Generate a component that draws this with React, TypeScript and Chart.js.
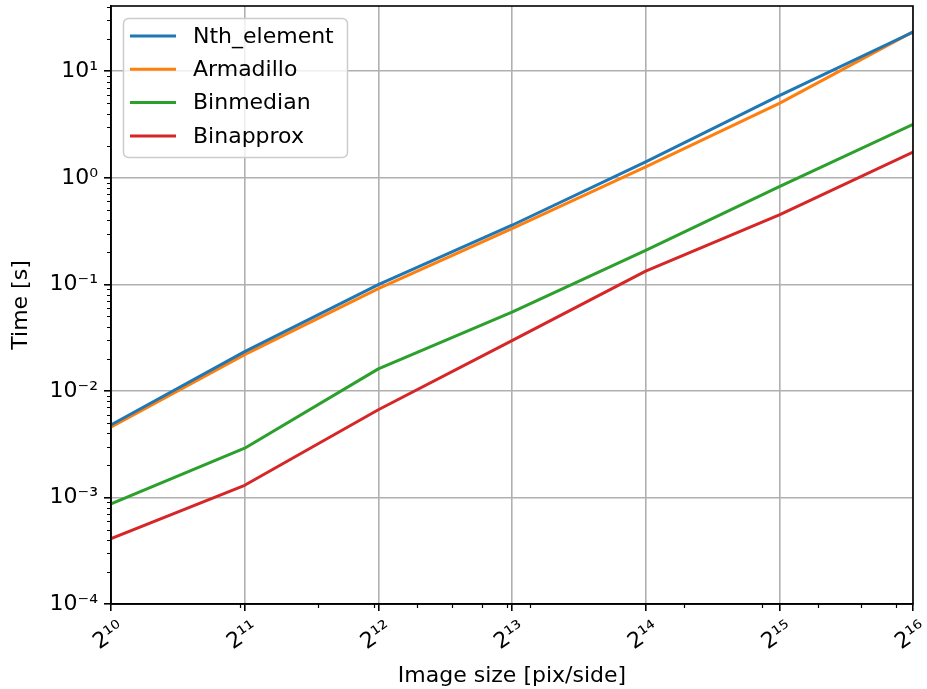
import React, { useEffect, useRef } from "react";
import { Chart, registerables } from "chart.js";

Chart.register(...registerables);

// ---- data ----
const IMAGE_SIZES = [1024, 2048, 4096, 8192, 16384, 32768, 65536];

const NTH_ELEMENT = [0.0048, 0.0234, 0.0995, 0.359, 1.41, 5.9, 23.3];
const ARMADILLO = [0.00457, 0.0219, 0.0914, 0.333, 1.27, 5.0, 23.5];
const BINMEDIAN = [0.00087, 0.0029, 0.0161, 0.0548, 0.208, 0.826, 3.18];
const BINAPPROX = [0.00041, 0.0013, 0.00665, 0.0297, 0.133, 0.449, 1.74];

const SERIES_LABELS = ["Nth_element", "Armadillo", "Binmedian", "Binapprox"];
const SERIES_VALUES = [NTH_ELEMENT, ARMADILLO, BINMEDIAN, BINAPPROX];
const SERIES_COLORS = ["#1f77b4", "#ff7f0e", "#2ca02c", "#d62728"];

const X_TICKS = [1024, 2048, 4096, 8192, 16384, 32768, 65536];
const X_TICK_LABELS = ["2¹⁰", "2¹¹", "2¹²", "2¹³", "2¹⁴", "2¹⁵", "2¹⁶"];
const X_MINOR_TICKS = [2000, 3000, 4000, 5000, 6000, 7000, 8000, 9000, 20000, 30000, 40000, 50000, 60000];

const Y_TICKS = [1e-4, 1e-3, 1e-2, 1e-1, 1, 10];
const Y_TICK_LABELS = ["10⁻⁴", "10⁻³", "10⁻²", "10⁻¹", "10⁰", "10¹"];
const Y_MIN = 1e-4;
const Y_MAX = 41;

const X_TITLE = "Image size [pix/side]";
const Y_TITLE = "Time [s]";

const FONT_FAMILY = "'DejaVu Sans', sans-serif";
const FONT_SIZE = 22;

const minorTicksPlugin = {
  id: "minorTicks",
  afterDatasetsDraw(chart: any) {
    const { ctx, chartArea, scales } = chart;
    const xs = scales.x;
    const ys = scales.y;
    ctx.save();
    // spines (box)
    ctx.strokeStyle = "#000";
    ctx.lineWidth = 1.6;
    ctx.strokeRect(chartArea.left, chartArea.top, chartArea.right - chartArea.left, chartArea.bottom - chartArea.top);
    // minor ticks
    ctx.lineWidth = 1.2;
    ctx.beginPath();
    for (let d = -5; d <= 2; d++) {
      for (let k = 2; k <= 9; k++) {
        const v = k * Math.pow(10, d);
        if (v < ys.min || v > ys.max) continue;
        const p = Math.round(ys.getPixelForValue(v)) + 0.5;
        ctx.moveTo(chartArea.left - 4, p);
        ctx.lineTo(chartArea.left, p);
      }
    }
    X_MINOR_TICKS.forEach((v) => {
      if (v < xs.min || v > xs.max) return;
      const p = Math.round(xs.getPixelForValue(v)) + 0.5;
      ctx.moveTo(p, chartArea.bottom);
      ctx.lineTo(p, chartArea.bottom + 4);
    });
    ctx.stroke();
    ctx.restore();
  },
};

const legendPlugin = {
  id: "mplLegend",
  afterDraw(chart: any) {
    const { ctx, chartArea } = chart;
    const x0 = chartArea.left + 12;
    const y0 = chartArea.top + 12;
    const w = 224;
    const h = 139;
    ctx.save();
    ctx.beginPath();
    ctx.roundRect(x0 + 0.5, y0 + 0.5, w, h, 5);
    ctx.fillStyle = "rgba(255,255,255,0.8)";
    ctx.fill();
    ctx.strokeStyle = "#cccccc";
    ctx.lineWidth = 1.5;
    ctx.stroke();
    ctx.font = `${FONT_SIZE}px ${FONT_FAMILY}`;
    ctx.textBaseline = "middle";
    ctx.textAlign = "left";
    chart.data.datasets.forEach((ds: any, i: number) => {
      const cy = y0 + 18 + i * 33.3;
      ctx.beginPath();
      ctx.strokeStyle = ds.borderColor;
      ctx.lineWidth = 3;
      ctx.moveTo(x0 + 7, cy);
      ctx.lineTo(x0 + 53, cy);
      ctx.stroke();
      ctx.fillStyle = "#000";
      ctx.fillText(ds.label, x0 + 70, cy + 1);
    });
    ctx.restore();
  },
};

export default function App() {
  const canvasRef = useRef<HTMLCanvasElement | null>(null);

  useEffect(() => {
    document.body.style.margin = "0";
    document.body.style.overflow = "hidden";
    const canvas = canvasRef.current;
    if (!canvas) return;

    const font = { family: FONT_FAMILY, size: FONT_SIZE };

    const chart = new Chart(canvas, {
      type: "line",
      data: {
        datasets: SERIES_LABELS.map((label, si) => ({
          label,
          data: IMAGE_SIZES.map((x, i) => ({ x, y: SERIES_VALUES[si][i] })),
          borderColor: SERIES_COLORS[si],
          backgroundColor: SERIES_COLORS[si],
          borderWidth: 3,
          pointRadius: 0,
          pointHoverRadius: 0,
          fill: false,
          tension: 0,
          borderJoinStyle: "round",
          borderCapStyle: "square",
        })),
      },
      options: {
        responsive: false,
        animation: false,
        devicePixelRatio: 1,
        events: [],
        layout: { padding: { top: 6, right: 14, left: 0, bottom: 0 } },
        plugins: {
          legend: { display: false },
          tooltip: { enabled: false },
        },
        scales: {
          x: {
            type: "logarithmic",
            min: 1024,
            max: 65536,
            afterBuildTicks: (s: any) => {
              s.ticks = X_TICKS.map((v) => ({ value: v }));
            },
            afterFit: (s: any) => {
              s.height = 85;
              s.paddingLeft = 0;
              s.paddingRight = 0;
            },
            ticks: {
              autoSkip: false,
              minRotation: 35,
              maxRotation: 35,
              padding: 5,
              labelOffset: 11,
              color: "#000",
              font,
              callback: (_v: any, i: number) => X_TICK_LABELS[i],
            },
            grid: {
              color: "#b0b0b0",
              lineWidth: 1.6,
              tickLength: 7,
              tickColor: "#000",
              tickWidth: 1.6,
            },
            border: { color: "#000", width: 1.6 },
            title: {
              display: true,
              text: X_TITLE,
              color: "#000",
              font,
              padding: { top: 0, bottom: 0 },
            },
          },
          y: {
            type: "logarithmic",
            min: Y_MIN,
            max: Y_MAX,
            afterBuildTicks: (s: any) => {
              s.ticks = Y_TICKS.map((v) => ({ value: v }));
            },
            afterFit: (s: any) => {
              s.width = 111;
              s.paddingTop = 0;
              s.paddingBottom = 0;
            },
            ticks: {
              autoSkip: false,
              padding: 6,
              color: "#000",
              font,
              callback: (_v: any, i: number) => Y_TICK_LABELS[i],
            },
            grid: {
              color: "#b0b0b0",
              lineWidth: 1.6,
              tickLength: 7,
              tickColor: "#000",
              tickWidth: 1.6,
            },
            border: { color: "#000", width: 1.6 },
            title: {
              display: true,
              text: Y_TITLE,
              color: "#000",
              font,
              padding: { top: 8, bottom: 0 },
            },
          },
        },
      } as any,
      plugins: [minorTicksPlugin, legendPlugin],
    });

    return () => chart.destroy();
  }, []);

  return (
    <div style={{ width: 927, height: 689, background: "#fff" }}>
      <canvas ref={canvasRef} width={927} height={689} style={{ display: "block" }} />
    </div>
  );
}
